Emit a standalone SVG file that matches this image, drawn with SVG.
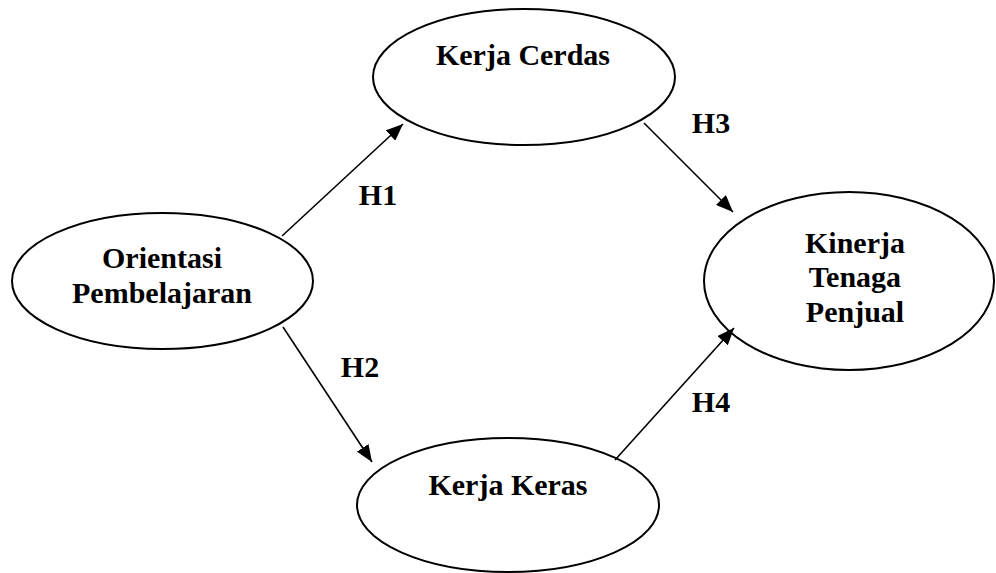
<svg xmlns="http://www.w3.org/2000/svg" width="996" height="573" viewBox="0 0 996 573">
<defs>
<style>
.node{fill:#fff;stroke:#000;stroke-width:2}
.lbl{font-family:"Liberation Serif","Times New Roman",serif;font-weight:bold;font-size:30px;fill:#000;text-anchor:middle}
.edge{stroke:#000;stroke-width:1.6;fill:none;marker-end:url(#ah)}
</style>
<marker id="ah" markerUnits="userSpaceOnUse" markerWidth="18" markerHeight="14" refX="17" refY="7" orient="auto">
<path d="M0,0 L17,7 L0,14 z" fill="#000"/>
</marker>
</defs>
<rect width="996" height="573" fill="#fff"/>
<g id="node-kerja-cerdas">
<ellipse class="node" cx="524" cy="77" rx="151" ry="68"/>
<text class="lbl" x="523" y="65">Kerja Cerdas</text>
</g>
<g id="node-orientasi">
<ellipse class="node" cx="162.5" cy="281" rx="150.5" ry="68"/>
<text class="lbl" x="162" y="268">Orientasi</text>
<text class="lbl" x="162" y="303">Pembelajaran</text>
</g>
<g id="node-kinerja">
<ellipse class="node" cx="849" cy="281" rx="145" ry="89"/>
<text class="lbl" x="855" y="253">Kinerja</text>
<text class="lbl" x="855" y="287">Tenaga</text>
<text class="lbl" x="855" y="322">Penjual</text>
</g>
<g id="node-kerja-keras">
<ellipse class="node" cx="508" cy="505" rx="151" ry="67"/>
<text class="lbl" x="508" y="495">Kerja Keras</text>
</g>
<g id="connectors">
<line class="edge" x1="282" y1="236" x2="403" y2="124"/>
<line class="edge" x1="283" y1="327" x2="372" y2="462"/>
<line class="edge" x1="644" y1="123" x2="733" y2="212"/>
<line class="edge" x1="615" y1="460" x2="734" y2="328"/>
<text class="lbl" x="378" y="205">H1</text>
<text class="lbl" x="360" y="377">H2</text>
<text class="lbl" x="711" y="133">H3</text>
<text class="lbl" x="711" y="412">H4</text>
</g>
</svg>
